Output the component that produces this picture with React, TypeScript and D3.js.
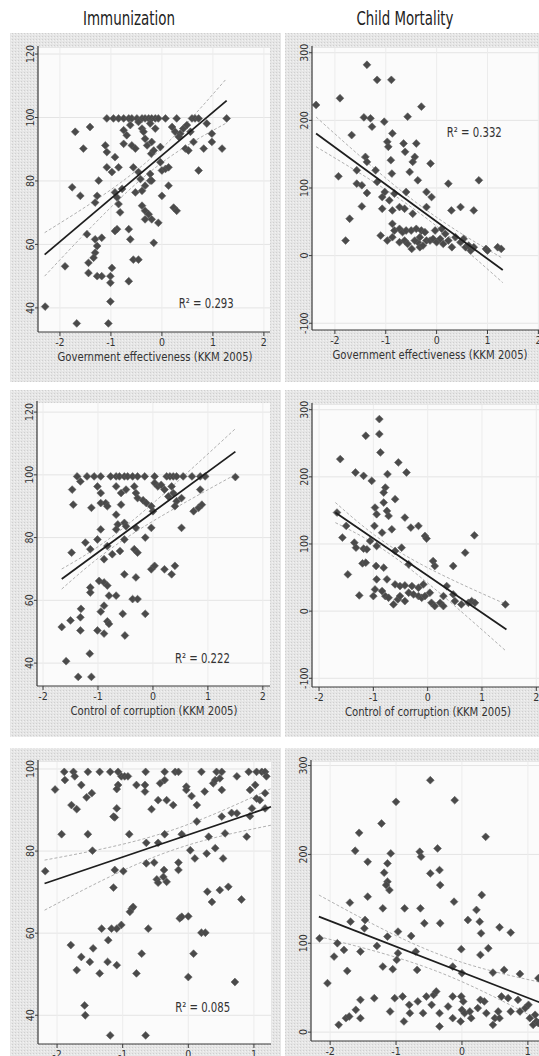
import * as d3 from 'd3';

const W = 539;
const H = 1056;

// ---- data: [x, y] ----
const immGovEff: [number, number][] = [
  [-1.08, 99.7], [-0.95, 99.7], [-0.85, 99.7], [-0.75, 99.7], [-0.65, 99.7], [-0.59, 99.7], [-0.49, 99.7],
  [-0.39, 99.7], [-0.33, 99.7], [-0.26, 99.7], [-0.2, 99.7], [-0.13, 99.7], [-0.07, 99.7], [0.07, 99.7],
  [0.29, 99.7], [0.59, 99.7], [0.65, 99.7], [0.72, 99.7], [1.27, 99.7],
  [-0.75, 96], [-0.69, 94.4], [-0.75, 91.7], [-0.59, 91.2], [-0.52, 90.2], [-0.62, 97.6], [-0.46, 98.6],
  [-0.39, 96.5], [-0.33, 93.3], [-0.29, 91.2], [-0.36, 95.5], [-0.2, 92.3], [-0.13, 96.5], [-0.23, 98.1],
  [0.2, 97], [0.26, 95.5], [0.36, 94.9], [0.42, 96.5], [0.49, 97.6], [0.56, 95.5], [0.33, 93.9], [0.46, 90.2],
  [0.52, 89.6], [0.62, 92.3], [0.82, 90.2], [0.88, 98.1], [0.98, 94.9], [0.98, 92.3], [1.18, 90.2], [0.72, 83.3],
  [-0.03, 90.7], [-0.21, 88.6], [-0.03, 85.9], [0, 83.3], [0.07, 83.8], [0.13, 84.3], [-0.16, 89.6], [-0.23, 82.2],
  [-0.33, 78.5], [-0.23, 80.1], [-0.2, 80.1], [-0.46, 82.8], [-0.56, 84.3], [-0.42, 80.6], [-0.52, 76.4],
  [-0.39, 76.9], [0.13, 78.5], [0, 75.3], [0.23, 71.6], [0.29, 70.6], [-0.39, 72.2], [-0.33, 70.6], [-0.26, 69.5],
  [-0.33, 67.9], [-0.2, 67.9], [-0.07, 66.8], [-0.16, 60.5],
  [-1.11, 91.2], [-1.08, 89.1], [-0.92, 87.5], [-1.08, 84.3], [-0.98, 82.8], [-0.85, 84.3], [-1.24, 80.1],
  [-1.41, 97], [-1.7, 95.5], [-1.54, 90.2], [-1.76, 78], [-1.6, 75.3], [-1.27, 75.3], [-1.31, 73.2], [-0.92, 76.4],
  [-0.88, 74.8], [-0.78, 77.5], [-0.85, 72.7], [-0.82, 70.1], [-0.88, 64.8], [-0.92, 64.2], [-0.65, 64.8], [-0.62, 61.6],
  [-1.47, 63.2], [-1.31, 61.6], [-1.18, 62.1], [-1.27, 59.5], [-1.31, 57.4], [-1.34, 55.8], [-1.44, 54.2],
  [-1.44, 51], [-1.27, 50], [-1.18, 50], [-1.01, 50], [-0.98, 52.6], [-1.01, 47.9], [-0.65, 48.4], [-0.56, 55.2],
  [-0.46, 55.2], [-1.9, 53.1], [-2.29, 40.4], [-1.67, 35.1], [-1.05, 35.1], [-1.01, 42],
];

const mortGovEff: [number, number][] = [
  [-2.37, 222.8], [-1.9, 232.7], [-1.37, 282.2], [-1.17, 259.9], [-0.89, 259.9], [-0.3, 220.3], [-1.67, 178.2],
  [-1.43, 204.4], [-1.3, 203], [-1.27, 190.6], [-1.03, 198], [-0.57, 205.4], [-0.97, 168.3], [-0.95, 160.9],
  [-0.87, 180.7], [-0.65, 165.8], [-0.62, 153.5], [-0.4, 165.8], [-0.43, 146], [-0.47, 138.6], [-0.53, 123.7],
  [-0.37, 111.4], [-0.12, 136.1], [-0.9, 141.1], [-0.88, 121.3], [-1.4, 146], [-1.37, 138.6], [-1.2, 126.2],
  [-1.57, 126.2], [-1.57, 106.4], [-1.93, 117.3], [-1.37, 92.6], [-1.47, 104], [-1.17, 108.9], [-1.02, 94.1],
  [-1.07, 86.6], [-1.47, 72.8], [-1.71, 54.5], [-1.79, 22.3], [-1.07, 69.3], [-0.93, 81.7], [-0.83, 91.6],
  [-0.6, 94.1], [-0.87, 66.8], [-0.73, 71.8], [-0.63, 69.3], [-0.47, 61.9], [-0.2, 94.1], [-0.1, 86.6],
  [-0.2, 71.8], [0.23, 106.4], [0.29, 66.8], [0.47, 71.8], [0.73, 66.8], [0.83, 111.4],
  [-0.87, 47], [-0.83, 37.1], [-0.73, 39.6], [-0.67, 34.7], [-0.6, 37.1], [-0.5, 37.1], [-0.4, 39.6], [-0.3, 37.1],
  [-0.23, 34.7], [-0.03, 37.1], [0.1, 39.6], [-1.1, 29.7], [-0.97, 22.3], [-0.87, 27.2], [-0.73, 19.8],
  [-0.63, 22.3], [-0.57, 17.3], [-0.49, 9.9], [-0.37, 19.8], [-0.33, 12.4], [-0.27, 14.9], [-0.2, 22.3],
  [-0.13, 22.3], [-0.07, 24.8], [0, 19.8], [0.07, 24.8], [0.13, 17.3], [0.23, 22.3], [0.3, 12.4], [0.37, 27.2],
  [0.47, 19.8], [0.53, 24.8], [0.57, 12.4], [0.63, 14.9], [0.67, 7.4], [0.73, 12.4], [0.97, 9.9], [1, 7.4],
  [1.2, 12.4], [1.27, 9.9], [-0.33, 27.2], [-0.43, 22.3], [0.17, 32.2],
];

const immCorr: [number, number][] = [
  [-1.38, 99.5], [-1.2, 99.5], [-1.07, 99.5], [-0.95, 99.5], [-0.77, 99.5], [-0.67, 99.5], [-0.61, 99.5],
  [-0.52, 99.5], [-0.46, 99.5], [-0.37, 99.5], [-0.28, 99.5], [-0.15, 99.5], [0.03, 99.5], [0.25, 99.5],
  [0.31, 99.5], [0.37, 99.5], [0.43, 99.5], [0.55, 99.5], [0.71, 99.5], [0.86, 99.5], [0.95, 99.5], [1.5, 99.3],
  [-1.32, 97.9], [-1.47, 95.3], [-1.45, 90.5], [-1.12, 89.5], [-1.01, 96.3], [-0.95, 94.2], [-0.95, 91],
  [-0.86, 91], [-0.83, 90], [-0.67, 96.3], [-0.58, 94.2], [-0.58, 90.5], [-0.49, 95.3], [-0.34, 96.3],
  [-0.31, 94.2], [-0.28, 92.6], [-0.18, 91.9], [-0.12, 91], [-0.03, 90], [0, 88.4], [0.03, 97.4], [0.09, 96.3],
  [0.15, 96.8], [0.21, 95.3], [0.28, 93.1], [0.34, 96.3], [0.37, 94.2], [0.43, 91.6], [0.4, 90], [0.52, 92.6],
  [0.74, 88.4], [0.83, 89.5], [0.89, 90.5], [0.86, 95.3], [-0.67, 87.3], [-0.64, 84.2], [-0.52, 84.7],
  [-0.67, 82.6], [-0.49, 83.6], [-0.31, 83.1], [-0.03, 83.1], [0.52, 83.1], [-0.95, 82.6], [-1.01, 79.4],
  [-1.23, 78.4], [-1.14, 76.3], [-0.83, 77.3], [-0.89, 73.1], [-0.74, 74.7], [-0.6, 75.7], [-0.52, 79.4],
  [-0.34, 76.3], [-0.28, 75.2], [-0.14, 80], [-1.48, 75.2], [-0.03, 69.9], [0.03, 71], [0.21, 69.9], [0.34, 68.3],
  [0.4, 71], [-0.52, 68.3], [-0.31, 67.3], [-0.98, 66.2], [-0.89, 65.7], [-0.83, 64.7], [-0.8, 61.5],
  [-0.67, 61.5], [-1.14, 64.1], [-1.14, 62.5], [-0.37, 60.4], [-0.28, 60.4], [-1.31, 57.3], [-1.32, 54.6],
  [-0.89, 58.3], [-0.95, 56.4], [-0.83, 53.3], [-0.8, 52.5], [-1.5, 53.6], [-1.32, 50.4], [-1.66, 51.5],
  [-1.01, 50.4], [-0.89, 49.4], [-0.55, 55.7], [-0.51, 48.8], [-0.14, 55.7], [-1.15, 43], [-1.58, 40.6],
  [-1.36, 35.6], [-1.12, 35.6],
];

const mortCorr: [number, number][] = [
  [-0.89, 286], [-0.89, 263.7], [-1.14, 261.2], [-0.87, 236.3], [-0.54, 221.4], [-1.61, 226.4], [-1.33, 206.5],
  [-1.18, 201.5], [-1.03, 194], [-0.74, 204], [-0.39, 206.5], [-0.78, 184], [-0.81, 176.6], [-0.81, 161.7],
  [-0.6, 166.7], [-0.97, 154.2], [-0.75, 149.3], [-0.72, 141.8], [-0.94, 144.3], [-0.42, 139.3], [-1.67, 146.8],
  [-1.5, 126.9], [-1.57, 109.5], [-0.98, 126.9], [-0.84, 116.9], [-0.66, 121.9], [-0.31, 124.4], [-0.17, 126.9],
  [-0.05, 111.9], [-0.02, 108], [0.86, 112.9], [-1.06, 104.5], [-0.94, 97], [-1.35, 102], [-1.32, 94.5],
  [-1.18, 93], [-1.12, 92], [-0.6, 89.6], [-0.48, 94.5], [0.69, 87], [-1.2, 71.1], [-1.14, 72.1], [-0.95, 67.2],
  [-0.81, 64.7], [-0.35, 69.7], [0.1, 74.6], [0.13, 67.2], [0.47, 67.2], [-1.47, 54.7], [-1.26, 23.4],
  [-0.94, 47.3], [-0.75, 47.3], [-0.97, 32.3], [-0.84, 29.9], [-1, 22.4], [-0.78, 22.4], [-0.72, 19.9],
  [-0.63, 10], [-0.55, 17.4], [-0.51, 22.4], [-0.6, 39.8], [-0.51, 37.3], [-0.42, 38.3], [-0.29, 37.3],
  [-0.17, 34.8], [-0.08, 39.8], [-0.35, 27.4], [-0.26, 24.9], [-0.17, 22.4], [-0.11, 19.9], [-0.05, 22.4],
  [0.04, 27.4], [0.07, 12.4], [0.13, 7.5], [0.23, 12.4], [0.29, 7.5], [0.29, 22.4], [0.35, 37.3], [0.47, 24.9],
  [0.5, 14.9], [0.62, 10], [0.75, 12.4], [0.81, 14.9], [0.87, 12.4], [1.43, 10], [-0.42, 14.9],
];

const immCorr2: [number, number][] = [
  [-1.89, 99.3], [-1.75, 99.3], [-1.73, 98.2], [-1.53, 99.3], [-1.35, 99.3], [-1.19, 99.3], [-1.07, 99.3],
  [-1.02, 98.2], [-0.97, 98.2], [-0.92, 98.2], [-0.65, 99.3], [-0.36, 99.3], [-0.2, 99.3], [-0.15, 99.3],
  [0.2, 99.3], [0.43, 99.3], [0.51, 99.3], [0.74, 98.2], [0.92, 99.3], [1.04, 99.3], [1.12, 99.3], [1.17, 99.3],
  [1.19, 98.2],
  [-2.03, 95], [-1.88, 97.3], [-1.63, 96.1], [-1.55, 93.1], [-1.47, 94.1], [-1.07, 96.1], [-1.09, 95.1],
  [-0.79, 96.1], [-0.66, 96.1], [-0.66, 94.5], [-0.43, 96.5], [-0.36, 97.3], [-0.46, 92.4], [-0.33, 92.4],
  [-0.56, 90.2], [-0.23, 91.2], [-0.03, 95.7], [-0.03, 94.9], [0.05, 93.4], [0.13, 91.2], [0.25, 94.5],
  [0.38, 96.5], [0.41, 97.3], [0.48, 97.7], [0.51, 94.9], [0.94, 94.9], [1.02, 96.1], [1.04, 92.8], [1.09, 92.4],
  [1.17, 94.1],
  [-1.78, 91.2], [-1.7, 90.2], [-1.93, 84.1], [-1.53, 84.1], [-1.46, 80.1], [-1.14, 88.4], [-1.12, 88.2],
  [-1.09, 90.4], [-0.9, 84.1], [-0.64, 82], [-0.46, 82], [-0.36, 84.1], [-0.1, 84.1], [0.13, 87.2], [0.31, 83.5],
  [0.51, 88.4], [0.56, 84.3], [0.66, 89.3], [0.74, 89.2], [0.89, 83.5], [0.94, 88.5], [0.97, 90.4], [1.17, 90.4],
  [-2.18, 75.1], [-1.12, 75.4], [-0.99, 75.1], [-1.14, 71.1], [-0.64, 77], [-0.52, 77.2], [-0.48, 73.1],
  [-0.46, 72.3], [-0.38, 73.7], [-0.37, 75.4], [-0.33, 72.5], [-0.15, 75.4], [-0.15, 77.2], [0.03, 80.2],
  [0.1, 78.2], [0.28, 79.4], [0.41, 80.7], [0.53, 78.2], [0.29, 70.1], [0.36, 67.6], [0.48, 70.5], [0.61, 71.3],
  [0.81, 68.2],
  [-0.86, 66], [-0.89, 65.2], [-0.84, 66.4], [-1.32, 61.1], [-1.17, 61.1], [-1.09, 61.1], [-1.02, 62],
  [-0.61, 61.1], [-0.13, 63.6], [-0.1, 64], [0, 64.1], [0.2, 60.1], [0.26, 60.1], [-1.79, 57.1], [-1.63, 54.2],
  [-1.45, 56.3], [-1.7, 51], [-1.5, 53], [-1.35, 50.2], [-1.22, 58.3], [-1.23, 53], [-1.09, 52.2], [-0.79, 50.2],
  [-0.71, 55], [0.08, 55], [0, 49.3], [0.71, 48.1], [-1.58, 42.4], [-1.57, 40], [-1.19, 35.1], [-0.65, 35.1],
];

const mortCorr2: [number, number][] = [
  [-0.48, 283.5], [-1, 259.2], [-0.11, 261], [-1.22, 234.8], [0.36, 219.8], [-1.56, 224.3], [-1.62, 204.1],
  [-1.43, 191.7], [-1.08, 201.1], [-1.13, 189.9], [-1.18, 179.4], [-1.13, 169.3], [-1.15, 165.5], [-1.1, 159.9],
  [-1.43, 152.4], [-0.64, 203], [-0.62, 197.4], [-0.48, 178.6], [-0.37, 206.7], [-0.34, 182.4], [-0.33, 165.5],
  [-0.12, 146.8], [0.3, 154.3], [-1.7, 145.7], [-1.69, 124.3], [-1.47, 126.2], [-1.48, 116.8], [-1.2, 139.3],
  [-1.13, 107.5], [-1.29, 97], [-0.97, 113.1], [-0.87, 139.3], [-0.77, 108.2], [-0.7, 90.6], [-0.63, 139.3],
  [-0.57, 122.5], [-0.33, 122.5], [0.09, 126.2], [0.22, 137.5], [0.27, 124.3], [0.29, 111.2], [0.4, 94.4],
  [-0.01, 93.3], [0.28, 86.9], [0.57, 118], [0.74, 112], [-0.14, 73.8], [0, 66.3], [0.47, 67], [0.64, 70],
  [0.88, 65.5], [1.16, 60.7], [-1.94, 85], [-1.89, 100], [-1.79, 92.5], [-2.16, 105.6], [-2.04, 55.1],
  [-1.74, 68.9], [-1.54, 90.6], [-1.2, 73.8], [-1.05, 70.8], [-0.99, 81.3], [-0.97, 88.8], [-0.68, 70],
  [-1.87, 8.2], [-1.76, 15.7], [-1.71, 17.6], [-1.61, 25.1], [-1.54, 15.7], [-1.54, 36.3], [-1.33, 38.2],
  [-1.09, 23.2], [-1.02, 38.2], [-0.9, 40.1], [-0.88, 12], [-0.8, 30.7], [-0.79, 21.3], [-0.67, 34.5],
  [-0.59, 21.3], [-0.54, 40.1], [-0.46, 30.7], [-0.43, 41.9], [-0.39, 45.7], [-0.34, 21.3], [-0.34, 6.4],
  [-0.21, 28.8], [-0.14, 40.1], [-0.14, 15.7], [-0.01, 40.1], [0.02, 34.5], [0, 25.1], [-0.02, 12], [0.04, 21.3],
  [0.12, 23.2], [0.14, 15.7], [0.24, 27], [0.28, 36.3], [0.34, 34.5], [0.37, 21.3], [0.47, 8.2], [0.5, 15.7],
  [0.55, 23.2], [0.57, 15.7], [0.6, 40.1], [0.7, 38.2], [0.74, 23.2], [0.85, 36.3], [0.88, 23.2], [0.96, 27],
  [1.03, 15.7], [1.08, 8.2], [1.13, 12], [1.01, 30.7], [1.11, 19.5], [1.16, 10.1],
];

// fitted lines and 95% bands (left, mean, right)
const fitImmGovEff: [number, number][] = [[-2.3, 56.8], [1.27, 105.3]];
const hiImmGovEff: [number, number][] = [[-2.3, 63.7], [-0.35, 85.3], [1.27, 112.3]];
const loImmGovEff: [number, number][] = [[-2.3, 50], [-0.35, 81.3], [1.27, 98.3]];

const fitMortGovEff: [number, number][] = [[-2.37, 180.7], [1.3, -21.3]];
const hiMortGovEff: [number, number][] = [[-2.37, 205], [-0.4, 78.4], [1.3, -4]];
const loMortGovEff: [number, number][] = [[-2.37, 161], [-0.4, 66.4], [1.3, -40]];

const fitImmCorr: [number, number][] = [[-1.66, 66.8], [1.5, 107.4]];
const hiImmCorr: [number, number][] = [[-1.66, 70], [-0.45, 84.3], [1.5, 114.7]];
const loImmCorr: [number, number][] = [[-1.66, 63.6], [-0.45, 80.3], [1.5, 100.1]];

const fitMortCorr: [number, number][] = [[-1.7, 146.8], [1.45, -27.4]];
const hiMortCorr: [number, number][] = [[-1.7, 161.8], [-0.45, 84.7], [1.45, 10]];
const loMortCorr: [number, number][] = [[-1.7, 131.8], [-0.45, 70.7], [1.45, -60]];

const fitImmCorr2: [number, number][] = [[-2.19, 72.1], [1.26, 90.8]];
const hiImmCorr2: [number, number][] = [[-2.19, 77.8], [-0.4, 84.3], [1.26, 95.2]];
const loImmCorr2: [number, number][] = [[-2.19, 65.6], [-0.4, 79.3], [1.26, 86.3]];

const fitMortCorr2: [number, number][] = [[-2.17, 130], [1.26, 31.1]];
const hiMortCorr2: [number, number][] = [[-2.17, 154.3], [-0.4, 89], [1.26, 55]];
const loMortCorr2: [number, number][] = [[-2.17, 107.5], [-0.4, 69], [1.26, 10]];

const xTicks = [-2, -1, 0, 1, 2];
const immTicks = [40, 60, 80, 100, 120];
const immTicks2 = [40, 60, 80, 100];
const mortTicks = [-100, 0, 100, 200, 300];
const mortTicks2 = [0, 100, 200, 300];
const columnTitles = ['Immunization', 'Child Mortality'];

const FONT = "'Liberation Sans Narrow', 'DejaVu Sans Condensed', 'Arial Narrow', sans-serif";

type Pt = [number, number];
interface PanelSpec {
  data: Pt[]; fit: Pt[]; hi: Pt[]; lo: Pt[];
  frame: number[]; plot: number[];
  xDomain: number[]; yDomain: number[]; yTicks: number[];
  xTitle?: string; xTitleLen?: number; xTitleX?: number;
  r2?: string; r2At?: Pt;
}

const panels: PanelSpec[] = [
  { data: immGovEff, fit: fitImmGovEff, hi: hiImmGovEff, lo: loImmGovEff,
    frame: [10, 33, 281, 382], plot: [38, 48, 270, 332],
    xDomain: [-2.43, 2.12], yDomain: [32.4, 121.9], yTicks: immTicks,
    xTitle: 'Government effectiveness (KKM 2005)', xTitleLen: 195, xTitleX: 155,
    r2: 'R² = 0.293', r2At: [0.33, 40] },
  { data: mortGovEff, fit: fitMortGovEff, hi: hiMortGovEff, lo: loMortGovEff,
    frame: [285, 33, 560, 382], plot: [312, 48, 545, 330],
    xDomain: [-2.45, 2.13], yDomain: [-110, 307], yTicks: mortTicks,
    xTitle: 'Government effectiveness (KKM 2005)', xTitleLen: 195, xTitleX: 430,
    r2: 'R² = 0.332', r2At: [0.2, 175] },
  { data: immCorr, fit: fitImmCorr, hi: hiImmCorr, lo: loImmCorr,
    frame: [10, 390, 281, 737], plot: [37, 403, 270, 686],
    xDomain: [-2.11, 2.13], yDomain: [32.7, 122.9], yTicks: immTicks,
    xTitle: 'Control of corruption (KKM 2005)', xTitleLen: 167, xTitleX: 154,
    r2: 'R² = 0.222', r2At: [0.4, 40] },
  { data: mortCorr, fit: fitMortCorr, hi: hiMortCorr, lo: loMortCorr,
    frame: [285, 390, 560, 737], plot: [312, 405, 545, 687],
    xDomain: [-2.13, 2.16], yDomain: [-113, 307], yTicks: mortTicks,
    xTitle: 'Control of corruption (KKM 2005)', xTitleLen: 166, xTitleX: 428 },
  { data: immCorr2, fit: fitImmCorr2, hi: hiImmCorr2, lo: loImmCorr2,
    frame: [10, 748, 281, 1070], plot: [38, 762, 271, 1044],
    xDomain: [-2.29, 1.26], yDomain: [33, 101.7], yTicks: immTicks2,
    r2: 'R² = 0.085', r2At: [-0.2, 40.7] },
  { data: mortCorr2, fit: fitMortCorr2, hi: hiMortCorr2, lo: loMortCorr2,
    frame: [285, 748, 560, 1070], plot: [311, 762, 545, 1041],
    xDomain: [-2.29, 1.26], yDomain: [-10, 304], yTicks: mortTicks2 },
];

const diamond = (r: number) => `M0,${-r}L${r},0L0,${r}L${-r},0Z`;

function Panel({ p }: { p: PanelSpec }) {
  const [x0, y0, x1, y1] = p.plot;
  const x = d3.scaleLinear().domain(p.xDomain).range([x0, x1]);
  const y = d3.scaleLinear().domain(p.yDomain).range([y1, y0]);
  const xt = xTicks.filter((t) => t >= p.xDomain[0] && t <= p.xDomain[1]);
  const straight = d3.line<Pt>().x((d) => x(d[0])).y((d) => y(d[1]));
  const band = d3.line<Pt>().x((d) => x(d[0])).y((d) => y(d[1])).curve(d3.curveNatural);
  const [fx0, fy0, fx1, fy1] = p.frame;
  return (
    <g>
      <rect x={fx0} y={fy0} width={fx1 - fx0} height={fy1 - fy0} fill="url(#halftone)" />
      <rect x={x0} y={y0} width={x1 - x0} height={y1 - y0} fill="#fbfbfb" />
      {p.yTicks.map((t) => (
        <line key={'gy' + t} x1={x0} x2={x1} y1={y(t)} y2={y(t)} stroke="#e4e4e4" strokeWidth={1} />
      ))}
      {xt.map((t) => (
        <line key={'gx' + t} x1={x(t)} x2={x(t)} y1={y0} y2={y1} stroke="#ececec" strokeWidth={1} />
      ))}
      <path d={band(p.hi) || ''} fill="none" stroke="#a8a8a8" strokeWidth={0.9} strokeDasharray="3,2" />
      <path d={band(p.lo) || ''} fill="none" stroke="#a8a8a8" strokeWidth={0.9} strokeDasharray="3,2" />
      {p.data.map((d, i) => (
        <path key={i} d={diamond(3.9)} transform={`translate(${x(d[0])},${y(d[1])})`}
          fill="#4a4a4a" stroke="#606060" strokeWidth={0.6} />
      ))}
      <path d={straight(p.fit) || ''} fill="none" stroke="#1e1e1e" strokeWidth={1.8} />
      {/* axes */}
      <line x1={x0} x2={x0} y1={y0 - 2} y2={y1} stroke="#3a3a3a" strokeWidth={1.2} />
      <line x1={x0} x2={x1} y1={y1} y2={y1} stroke="#3a3a3a" strokeWidth={1.2} />
      {p.yTicks.map((t) => (
        <g key={'ty' + t}>
          <line x1={x0 - 3} x2={x0} y1={y(t)} y2={y(t)} stroke="#3a3a3a" />
          <text transform={`translate(${x0 - 4},${y(t)}) rotate(-90)`} textAnchor="middle"
            fontFamily={FONT} fontSize={10.5} fill="#333">{t}</text>
        </g>
      ))}
      {xt.map((t) => (
        <g key={'tx' + t}>
          <line x1={x(t)} x2={x(t)} y1={y1} y2={y1 + 4} stroke="#3a3a3a" />
          <text x={x(t)} y={y1 + 14} textAnchor="middle" fontFamily={FONT} fontSize={10.5} fill="#333">{t}</text>
        </g>
      ))}
      {p.xTitle && (
        <text x={p.xTitleX} y={y1 + 29} textAnchor="middle" fontFamily={FONT} fontSize={12.5}
          fill="#333" textLength={p.xTitleLen} lengthAdjust="spacingAndGlyphs">{p.xTitle}</text>
      )}
      {p.r2 && p.r2At && (
        <text x={x(p.r2At[0])} y={y(p.r2At[1])} fontFamily={FONT} fontSize={14} fill="#333"
          textLength={55} lengthAdjust="spacingAndGlyphs">{p.r2}</text>
      )}
    </g>
  );
}

export default function App() {
  return (
    <svg width={W} height={H} style={{ position: 'absolute', left: 0, top: 0, display: 'block' }}>
      <defs>
        <pattern id="halftone" width={3} height={3} patternUnits="userSpaceOnUse">
          <rect width={3} height={3} fill="#e6e6e6" />
          <rect width={1} height={1} fill="#cfcfcf" />
          <rect x={2} y={1} width={1} height={1} fill="#f2f2f2" />
        </pattern>
        <clipPath id="page"><rect width={W} height={H} /></clipPath>
      </defs>
      <rect width={W} height={H} fill="#ffffff" />
      <text x={129} y={25} textAnchor="middle" fontFamily={FONT} fontSize={19} fill="#222"
        textLength={92} lengthAdjust="spacingAndGlyphs">{columnTitles[0]}</text>
      <text x={405} y={25} textAnchor="middle" fontFamily={FONT} fontSize={19} fill="#222"
        textLength={97} lengthAdjust="spacingAndGlyphs">{columnTitles[1]}</text>
      <g clipPath="url(#page)">
        {panels.map((p, i) => <Panel key={i} p={p} />)}
      </g>
    </svg>
  );
}
